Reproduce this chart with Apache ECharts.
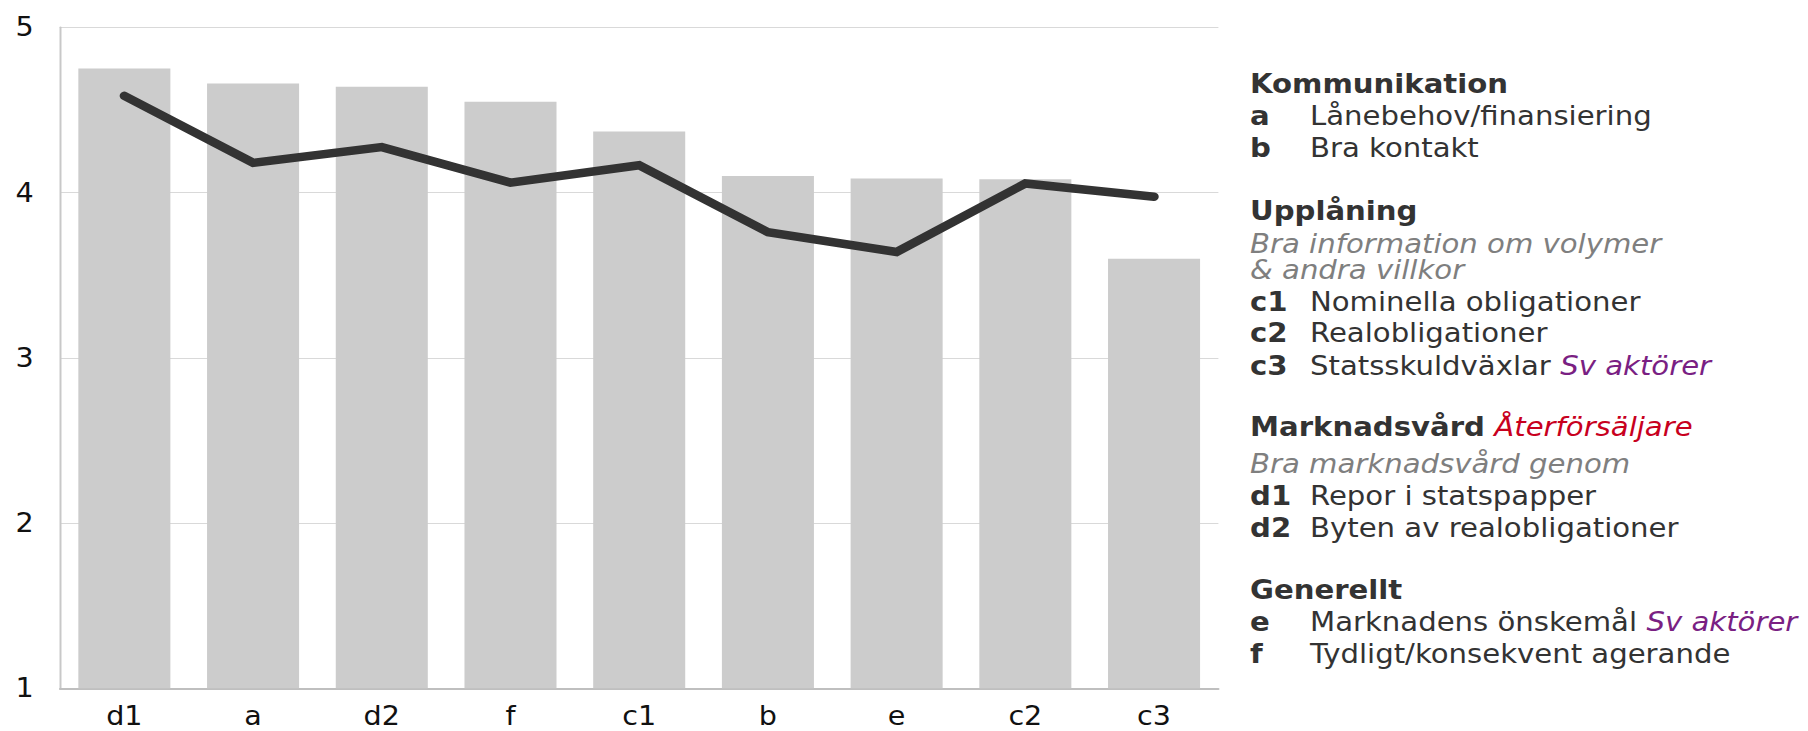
<!DOCTYPE html>
<html>
<head>
<meta charset="utf-8">
<script src="https://cdn.jsdelivr.net/npm/echarts@6/dist/echarts.min.js"></script>
<style>
html,body{margin:0;padding:0;background:#fff;overflow:hidden;width:1808px;height:731px;}
#chart{width:1643.64px;height:731px;transform:scaleX(1.1);transform-origin:0 0;}
</style>
</head>
<body>
<div id="chart"></div>
<script>
// ---- data ----
const categories = ['d1', 'a', 'd2', 'f', 'c1', 'b', 'e', 'c2', 'c3'];
const barValues  = [4.75, 4.66, 4.64, 4.55, 4.37, 4.10, 4.085, 4.08, 3.60];
const lineValues = [4.585, 4.18, 4.275, 4.06, 4.165, 3.76, 3.64, 4.055, 3.975];
const yMin = 1, yMax = 5, yStep = 1;

// ---- legend text (right side) ----
const FONT = 'DejaVu Sans';
const TXT = '#333333', GRAY = '#7f7f7f', PURPLE = '#7a1f83', RED = '#c8001e';
const KEY_X = 1136.4, DESC_X = 1190.9;
// [baselineY, kind, key, text, extra, extraStyle]
const legendRows = [
  [95.5, 'head', 'Kommunikation'],
  [127, 'item', 'a',  'Lånebehov/finansiering'],
  [159.5, 'item', 'b',  'Bra kontakt'],
  [222, 'head', 'Upplåning'],
  [255, 'note', 'Bra information om volymer'],
  [281, 'note', '& andra villkor'],
  [313, 'item', 'c1', 'Nominella obligationer'],
  [344.5, 'item', 'c2', 'Realobligationer'],
  [377, 'item', 'c3', 'Statsskuldväxlar', 'Sv aktörer', 'p'],
  [438.5, 'head', 'Marknadsvård', 'Återförsäljare', 'r'],
  [475.5, 'note', 'Bra marknadsvård genom'],
  [507.5, 'item', 'd1', 'Repor i statspapper'],
  [539, 'item', 'd2', 'Byten av realobligationer'],
  [601.5, 'head', 'Generellt'],
  [633.5, 'item', 'e',  'Marknadens önskemål', 'Sv aktörer', 'p'],
  [665, 'item', 'f',  'Tydligt/konsekvent agerande']
];

const FS = 26.5, LH = 27;
const richDefs = {
  b: {fontFamily: FONT, fontSize: FS, lineHeight: LH, fontWeight: 'bold', fill: TXT, color: TXT},
  n: {fontFamily: FONT, fontSize: FS, lineHeight: LH, fill: TXT, color: TXT},
  p: {fontFamily: FONT, fontSize: FS, lineHeight: LH, fontStyle: 'italic', fill: PURPLE, color: PURPLE},
  r: {fontFamily: FONT, fontSize: FS, lineHeight: LH, fontStyle: 'italic', fill: RED, color: RED},
  g: {fontFamily: FONT, fontSize: FS, lineHeight: LH, fontStyle: 'italic', fill: GRAY, color: GRAY}
};
function txt(x, baseline, content) {
  return {
    type: 'text', x: x, y: baseline - 11.5,
    style: {text: content, fontFamily: FONT, fontSize: FS, lineHeight: LH, fill: TXT,
            verticalAlign: 'middle', align: 'left', rich: richDefs}
  };
}
const graphics = [];
legendRows.forEach(r => {
  const [y, kind] = r;
  if (kind === 'head') {
    let s = '{b|' + r[2] + '}';
    if (r[3]) s += '{n| }{' + r[4] + '|' + r[3] + '}';
    graphics.push(txt(KEY_X, y, s));
  } else if (kind === 'note') {
    graphics.push(txt(KEY_X, y, '{g|' + r[2] + '}'));
  } else {
    graphics.push(txt(KEY_X, y, '{b|' + r[2] + '}'));
    let s = '{n|' + r[3] + '}';
    if (r[4]) s += '{n| }{' + r[5] + '|' + r[4] + '}';
    graphics.push(txt(DESC_X, y, s));
  }
});

const chart = echarts.init(document.getElementById('chart'), null, {renderer: 'svg'});
chart.setOption({
  animation: false,
  backgroundColor: '#ffffff',
  grid: {left: 54.55, right: 536.36, top: 27.3, bottom: 42.7, containLabel: false},
  xAxis: {
    type: 'category',
    data: categories,
    axisLine: {show: true, lineStyle: {color: '#bfbfbf', width: 2}},
    axisTick: {show: false},
    axisLabel: {color: '#111111', fontFamily: FONT, fontSize: 26, margin: 15}
  },
  yAxis: {
    type: 'value',
    min: yMin, max: yMax, interval: yStep,
    axisLine: {show: true, lineStyle: {color: '#c8c8c8', width: 1.8}},
    axisTick: {show: false},
    splitLine: {show: true, lineStyle: {color: '#d9d9d9', width: 1}},
    axisLabel: {color: '#111111', fontFamily: FONT, fontSize: 26, margin: 24}
  },
  series: [
    {
      type: 'bar',
      data: barValues,
      barCategoryGap: '28.5%',
      clip: true,
      itemStyle: {color: '#cccccc'},
      z: 2
    },
    {
      type: 'line',
      data: lineValues,
      symbol: 'none',
      lineStyle: {color: '#333333', width: 8.5, cap: 'round', join: 'miter'},
      z: 3
    }
  ],
  graphic: graphics
});
</script>
</body>
</html>
